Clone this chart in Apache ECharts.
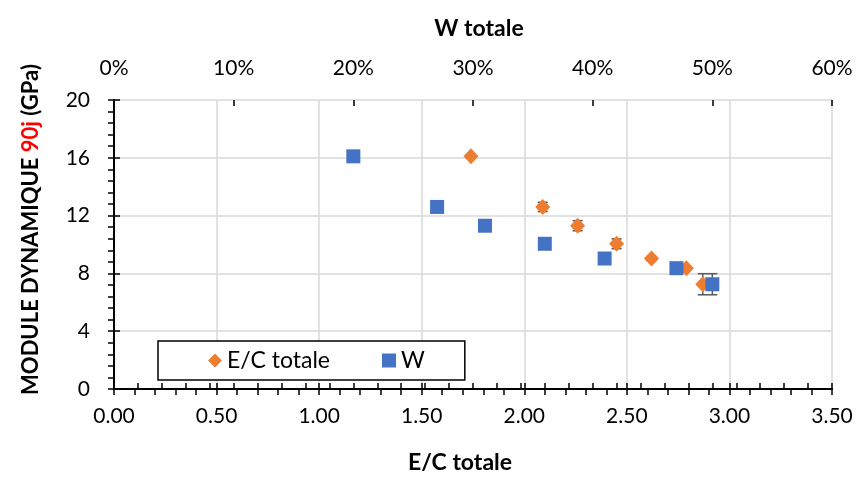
<!DOCTYPE html>
<html>
<head>
<meta charset="utf-8">
<script src="https://cdn.jsdelivr.net/npm/echarts@6/dist/echarts.min.js"></script>
<style>
html,body{margin:0;padding:0;background:#fff;}
#chart{width:859px;height:479px;}
</style>
</head>
<body>
<div id="chart"></div>
<script>
// ---- data ----
var ecTotale = [1.74, 2.09, 2.26, 2.45, 2.62, 2.79, 2.87];
var wTotale = [20, 27, 31, 36, 41, 47, 50];
var modulus = [16.1, 12.6, 11.3, 10.05, 9.03, 8.36, 7.25];
var modulusErr = [0.1, 0.32, 0.35, 0.34, 0.15, 0.12, 0.73];
var bottomTicks = [0, 0.5, 1, 1.5, 2, 2.5, 3, 3.5];
var topTicks = [0, 10, 20, 30, 40, 50, 60];
var yTicks = [0, 4, 8, 12, 16, 20];

var FONT = 'Lato';
var ORANGE = '#ED7D31', BLUE = '#4472C4';

function pairs(xs, ys){ return xs.map(function(x,i){ return [x, ys[i]]; }); }
function errData(xs){ return xs.map(function(x,i){ return [x, modulus[i]-modulusErr[i], modulus[i]+modulusErr[i]]; }); }

function errRender(params, api){
  var x = api.value(0), lo = api.value(1), hi = api.value(2);
  var pl = api.coord([x, lo]), ph = api.coord([x, hi]);
  var w = 5;
  var st = {stroke:'#595959', lineWidth:1.5};
  return {type:'group', children:[
    {type:'line', shape:{x1:pl[0],y1:pl[1],x2:ph[0],y2:ph[1]}, style:st},
    {type:'line', shape:{x1:pl[0]-w,y1:pl[1],x2:pl[0]+w,y2:pl[1]}, style:st},
    {type:'line', shape:{x1:ph[0]-w,y1:ph[1],x2:ph[0]+w,y2:ph[1]}, style:st}
  ]};
}

var axisLineStyle = {color:'#000', width:2};
var tickStyle = {color:'#000', width:1.5};
var labelStyle = {fontFamily:FONT, fontSize:21, color:'#000'};
function nameStyle(pad){ return {fontFamily:FONT, fontSize:23, fontWeight:'bold', color:'#000', padding:pad}; }

var chart = echarts.init(document.getElementById('chart'));
chart.setOption({
  animation:false,
  backgroundColor:'#fff',
  grid:{left:114, right:27, top:100, bottom:87, containLabel:false},
  legend:{
    left:158, top:341,
    padding:[8, 40, 8, 50],
    itemGap:52,
    itemWidth:14, itemHeight:14,
    borderColor:'#000', borderWidth:1.5,
    backgroundColor:'#fff',
    textStyle:{fontFamily:FONT, fontSize:23, color:'#000'},
    data:[{name:'E/C totale', icon:'diamond'}, {name:'W', icon:'rect'}]
  },
  xAxis:[
    {type:'value', position:'bottom', min:bottomTicks[0], max:bottomTicks[bottomTicks.length-1], interval:0.5,
     name:'E/C totale', nameLocation:'middle', nameGap:62, nameTextStyle:nameStyle([0, 26, 0, 0]),
     axisLine:{show:true, lineStyle:axisLineStyle},
     axisTick:{show:true, inside:false, length:6, lineStyle:tickStyle},
     minorTick:{show:true, splitNumber:5, length:6, lineStyle:tickStyle},
     axisLabel:Object.assign({margin:17, formatter:function(v){return v.toFixed(2);}}, labelStyle),
     splitLine:{show:true, lineStyle:{color:'#D9D9D9', width:1.5}}},
    {type:'value', position:'top', min:topTicks[0], max:topTicks[topTicks.length-1], interval:10,
     name:'W totale', nameLocation:'middle', nameGap:60, nameTextStyle:nameStyle([0, 0, 0, 12]),
     axisLine:{show:true, lineStyle:axisLineStyle},
     axisTick:{show:true, inside:false, length:6, lineStyle:tickStyle},
     minorTick:{show:true, splitNumber:5, length:6, lineStyle:tickStyle},
     axisLabel:Object.assign({margin:21, formatter:'{value}%'}, labelStyle),
     splitLine:{show:false}},
    {type:'value', position:'bottom', min:0, max:3.5, interval:0.5,
     axisLine:{show:false}, axisTick:{show:true, inside:true, length:6, lineStyle:tickStyle},
     axisLabel:{show:false}, splitLine:{show:false}},
    {type:'value', position:'top', min:0, max:60, interval:10,
     axisLine:{show:false}, axisTick:{show:true, inside:true, length:6, lineStyle:tickStyle},
     axisLabel:{show:false}, splitLine:{show:false}}
  ],
  yAxis:[
    {type:'value', position:'left', min:yTicks[0], max:yTicks[yTicks.length-1], interval:4,
     name:'{b|MODULE DYNAMIQUE }{r|90j}{b| (GPa)}', nameLocation:'middle', nameGap:72, nameRotate:90,
     nameTextStyle:{padding:[0, 0, 0, 30], rich:{
       b:{fontFamily:FONT, fontSize:22, fontWeight:'bold', color:'#000'},
       r:{fontFamily:FONT, fontSize:22, fontWeight:'bold', color:'#FF0000'}}},
     axisLine:{show:true, lineStyle:axisLineStyle},
     axisTick:{show:true, inside:false, length:6, lineStyle:tickStyle},
     minorTick:{show:true, splitNumber:5, length:6, lineStyle:tickStyle},
     axisLabel:Object.assign({margin:24}, labelStyle),
     splitLine:{show:true, lineStyle:{color:'#D9D9D9', width:1.5}}},
    {type:'value', position:'left', min:0, max:20, interval:4,
     axisLine:{show:false}, axisTick:{show:true, inside:true, length:6, lineStyle:tickStyle},
     axisLabel:{show:false}, splitLine:{show:false}},
    {type:'value', position:'right', min:0, max:20, interval:4,
     axisLine:{show:true, lineStyle:axisLineStyle}, axisTick:{show:false},
     axisLabel:{show:false}, splitLine:{show:false}}
  ],
  series:[
    {type:'custom', name:'errEC', xAxisIndex:0, yAxisIndex:0, z:2,
     renderItem:errRender, encode:{x:0, y:[1,2]}, data:errData(ecTotale), silent:true},
    {type:'custom', name:'errW', xAxisIndex:1, yAxisIndex:0, z:2,
     renderItem:errRender, encode:{x:0, y:[1,2]}, data:errData(wTotale), silent:true},
    {type:'scatter', name:'E/C totale', xAxisIndex:0, yAxisIndex:0, z:3,
     symbol:'diamond', symbolSize:[15,16], itemStyle:{color:ORANGE, opacity:1},
     data:pairs(ecTotale, modulus)},
    {type:'scatter', name:'W', xAxisIndex:1, yAxisIndex:0, z:4,
     symbol:'rect', symbolSize:14, itemStyle:{color:BLUE, opacity:1},
     data:pairs(wTotale, modulus)}
  ]
});
</script>
</body>
</html>
